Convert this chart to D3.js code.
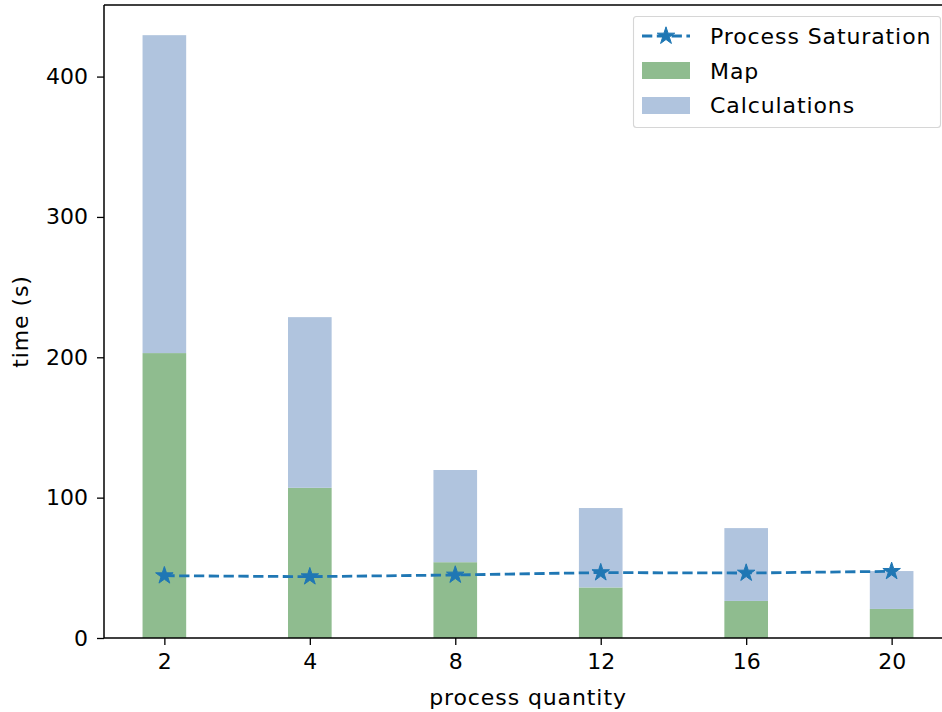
<!DOCTYPE html>
<html>
<head>
<meta charset="utf-8">
<script src="https://cdn.jsdelivr.net/npm/d3@7"></script>
<style>
  body { margin: 0; background: #fff; }
  svg { font-family: "DejaVu Sans", sans-serif; }
</style>
</head>
<body>
<svg id="chart"></svg>
<script>
// data
const categories = ['2', '4', '8', '12', '16', '20'];
const mapTimes = [203, 107, 54, 36, 26.4, 20.7];
const calcTimes = [226.5, 121.6, 65.7, 56.6, 51.9, 27];
const saturation = [44.4, 43.7, 44.9, 46.6, 46.3, 47.5];
const yTicks = [0, 100, 200, 300, 400];

const W = 942, H = 712;
const mLeft = 104, mRight = 952, mTop = 5, mBottom = 638;
const fs = 22;
const ls = 0.9; // matplotlib's glyphs come out a little wider

const svg = d3.select('#chart')
  .attr('width', W)
  .attr('height', H);

// x is index-based like matplotlib's bar positions
const x = d3.scaleLinear()
  .domain([-0.415, categories.length - 1 + 0.415])
  .range([mLeft, mRight]);
const y = d3.scaleLinear()
  .domain([0, 451])
  .range([mBottom, mTop]);

const barW = x(0.3) - x(0);

// stacked bars
const g = svg.append('g');
g.selectAll('.map')
  .data(mapTimes)
  .join('rect')
    .attr('x', (d, i) => x(i) - barW / 2)
    .attr('width', barW)
    .attr('y', d => y(d))
    .attr('height', d => y(0) - y(d))
    .attr('fill', '#8fbc8f');
g.selectAll('.calc')
  .data(calcTimes)
  .join('rect')
    .attr('x', (d, i) => x(i) - barW / 2)
    .attr('width', barW)
    .attr('y', (d, i) => y(mapTimes[i] + d))
    .attr('height', (d, i) => y(mapTimes[i]) - y(mapTimes[i] + d))
    .attr('fill', '#b0c4de');

// dashed line with star markers
const line = d3.line()
  .x((d, i) => x(i))
  .y(d => y(d));
svg.append('path')
  .datum(saturation)
  .attr('d', line)
  .attr('fill', 'none')
  .attr('stroke', '#1f77b4')
  .attr('stroke-width', 2.8)
  .attr('stroke-dasharray', '10.3,4.5');
const star = d3.symbol().type(d3.symbolStar).size(95);
svg.selectAll('.star')
  .data(saturation)
  .join('path')
    .attr('d', star)
    .attr('transform', (d, i) => `translate(${x(i)},${y(d)})`)
    .attr('fill', '#1f77b4')
    .attr('stroke', '#1f77b4')
    .attr('stroke-width', 1);

// axes
const xAxis = d3.axisBottom(x)
  .tickValues(d3.range(categories.length))
  .tickFormat(i => categories[i])
  .tickSizeOuter(0)
  .tickSize(7)
  .tickPadding(8);
const yAxis = d3.axisLeft(y)
  .tickValues(yTicks)
  .tickSizeOuter(0)
  .tickSize(7)
  .tickPadding(9);

const gx = svg.append('g')
  .attr('transform', `translate(0,${mBottom})`)
  .call(xAxis);
const gy = svg.append('g')
  .attr('transform', `translate(${mLeft},0)`)
  .call(yAxis);
[gx, gy].forEach(a => {
  a.selectAll('text')
    .attr('font-size', fs)
    .attr('font-family', '"DejaVu Sans", sans-serif')
    .attr('fill', '#000');
  a.selectAll('line').attr('stroke', '#000').attr('stroke-width', 1.3);
  a.select('.domain').remove();
});

// spines (right spine falls outside the picture)
svg.append('line')
  .attr('x1', mLeft).attr('x2', mLeft).attr('y1', mTop).attr('y2', mBottom)
  .attr('stroke', '#000').attr('stroke-width', 1.5);
svg.append('line')
  .attr('x1', mLeft).attr('x2', W + 10).attr('y1', mBottom).attr('y2', mBottom)
  .attr('stroke', '#000').attr('stroke-width', 1.5);
svg.append('line')
  .attr('x1', mLeft).attr('x2', W + 10).attr('y1', mTop).attr('y2', mTop)
  .attr('stroke', '#000').attr('stroke-width', 1.5);

// axis labels
svg.append('text')
  .attr('x', (mLeft + mRight) / 2)
  .attr('y', 705)
  .attr('text-anchor', 'middle')
  .attr('font-size', fs)
  .attr('letter-spacing', ls)
  .text('process quantity');
svg.append('text')
  .attr('transform', `translate(28,${(mTop + mBottom) / 2}) rotate(-90)`)
  .attr('text-anchor', 'middle')
  .attr('font-size', fs)
  .attr('letter-spacing', ls)
  .text('time (s)');

// legend
const lg = svg.append('g');
lg.append('rect')
  .attr('x', 633.5).attr('y', 16.5)
  .attr('width', 307).attr('height', 111)
  .attr('rx', 3)
  .attr('fill', '#fff')
  .attr('fill-opacity', 0.8)
  .attr('stroke', '#d6d6d6')
  .attr('stroke-width', 1.1);
lg.append('line')
  .attr('x1', 642).attr('x2', 690).attr('y1', 36).attr('y2', 36)
  .attr('stroke', '#1f77b4').attr('stroke-width', 2.8)
  .attr('stroke-dasharray', '10.3,4.5');
lg.append('path')
  .attr('d', star)
  .attr('transform', 'translate(666,36)')
  .attr('fill', '#1f77b4').attr('stroke', '#1f77b4').attr('stroke-width', 1);
lg.append('rect')
  .attr('x', 642).attr('y', 62).attr('width', 48).attr('height', 17)
  .attr('fill', '#8fbc8f');
lg.append('rect')
  .attr('x', 642).attr('y', 97).attr('width', 48).attr('height', 17)
  .attr('fill', '#b0c4de');
const labels = ['Process Saturation', 'Map', 'Calculations'];
lg.selectAll('.lbl')
  .data(labels)
  .join('text')
    .attr('x', 710)
    .attr('y', (d, i) => 44 + i * 34.5)
    .attr('font-size', fs)
    .attr('letter-spacing', ls)
    .text(d => d);
</script>
</body>
</html>
